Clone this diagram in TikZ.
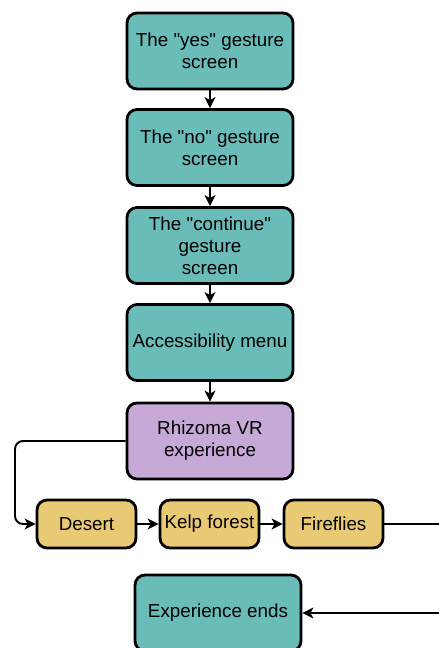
\documentclass[tikz,border=0pt]{standalone}
\usepackage{fontspec}
\newfontfamily\labelfont{Liberation Sans}
\usetikzlibrary{arrows.meta}
\definecolor{tealbox}{HTML}{6ABCB9}
\definecolor{lilacbox}{HTML}{C6A9D6}
\definecolor{sandbox}{HTML}{E8C974}
\begin{document}
\begin{tikzpicture}[x=1pt,y=-1pt,
  box/.style={draw=black, line width=2.8pt, rounded corners=10pt,
    minimum width=166pt, minimum height=76pt, align=center,
    font=\labelfont\fontsize{18.8}{22}\selectfont, inner sep=1pt},
  screenbox/.style={box, fill=tealbox},
  vrbox/.style={box, fill=lilacbox},
  scenebox/.style={box, fill=sandbox, minimum width=99pt, minimum height=48pt},
  link/.style={line width=1.9pt, -{Stealth[length=11pt,width=11pt,inset=3pt]}}]
\useasboundingbox (0,0) rectangle (439,648);

\node[screenbox] (yes) at (210,51) {The "yes" gesture\\screen};
\node[screenbox] (no) at (210,147.5) {The "no" gesture\\screen};
\node[screenbox] (cont) at (210,245.5) {The "continue"\\gesture\\screen};
\node[screenbox] (menu) at (210,342.5) {Accessibility menu};
\node[vrbox] (vr) at (210,441) {Rhizoma VR\\experience};

\node[scenebox] (desert) at (86.5,524) {Desert};
\node[scenebox] (kelp) at (209.5,524) {Kelp forest};
\node[scenebox] (fire) at (333.5,524) {Fireflies};

\node[screenbox] (ends) at (218,613) {Experience ends};

\coordinate (outR) at (439,524);
\coordinate (inR) at (439,613);

\draw[link] (yes) -- (no);
\draw[link] (no) -- (cont);
\draw[link] (cont) -- (menu);
\draw[link] (menu) -- (vr);
\draw[link, rounded corners=8pt] (vr.west) -| (15,470) |- (desert.west);
\draw[link] (desert) -- (kelp);
\draw[link] (kelp) -- (fire);
\draw[line width=1.9pt] (fire.east) -- (outR);
\draw[link] (inR) -- (ends.east);
\end{tikzpicture}
\end{document}
